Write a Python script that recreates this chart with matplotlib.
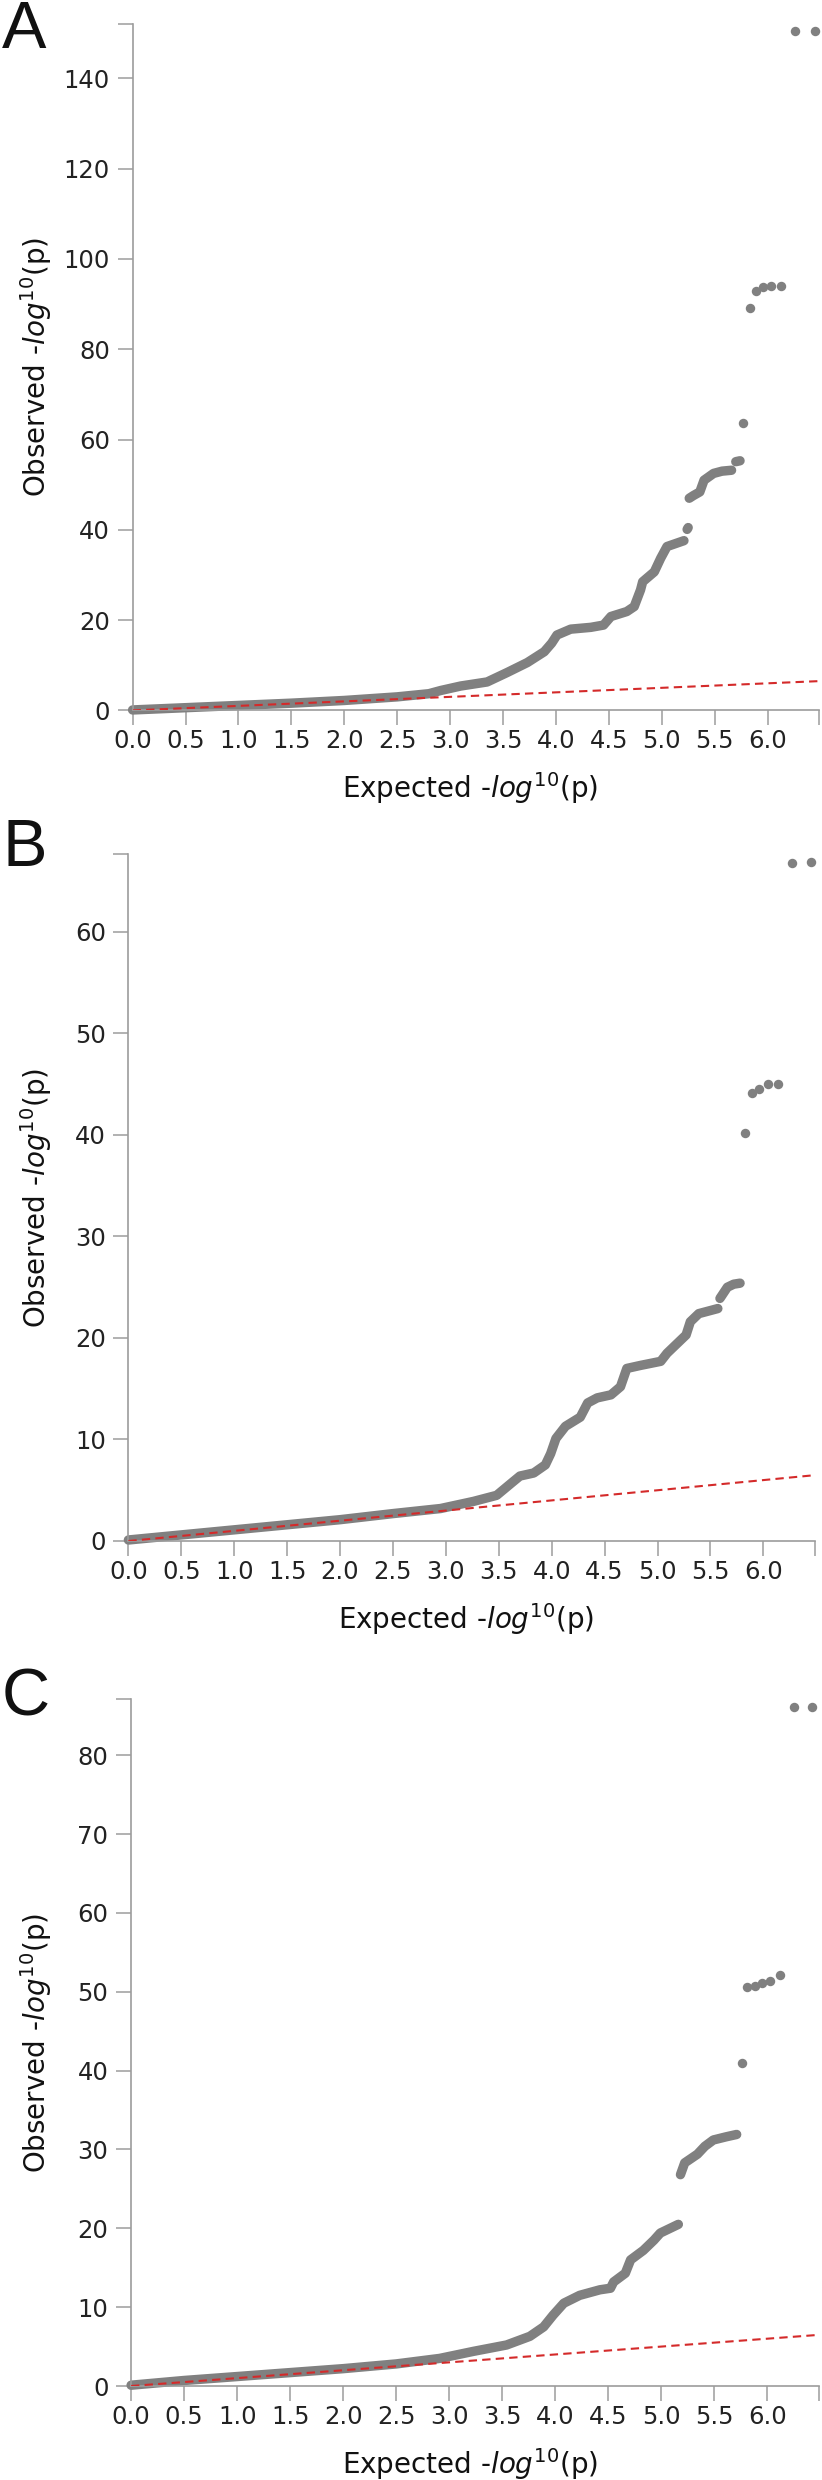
import numpy as np
import matplotlib
matplotlib.use("Agg")
import matplotlib.pyplot as plt

nan = np.nan

# values (x = expected -log10 p, y = observed -log10 p)
# dense part of each curve, nan breaks the runs
a_line_x = [0.0, 0.5, 1.0, 1.5, 2.0, 2.5, 2.8, 2.91, 3.1, 3.35, 3.54, 3.73, 3.89, 3.96,
            4.01, 4.14, 4.33, 4.45, 4.52, 4.67, 4.74, 4.80, 4.82, 4.93, 4.99, 5.05, 5.21,
            nan, 5.24, 5.25,
            nan, 5.26, 5.30, 5.36, 5.40, 5.49, 5.57, 5.66,
            nan, 5.70, 5.74]
a_line_y = [0.1, 0.6, 1.1, 1.6, 2.2, 3.0, 3.7, 4.4, 5.4, 6.3, 8.4, 10.6, 13.0, 14.9,
            16.7, 18.0, 18.4, 18.9, 20.8, 21.9, 23.0, 26.7, 28.5, 30.7, 33.7, 36.3, 37.6,
            nan, 40.1, 40.5,
            nan, 47.0, 47.6, 48.4, 51.0, 52.5, 53.0, 53.2,
            nan, 55.1, 55.3]
a_dot_x = [5.77, 5.83, 5.89, 5.96, 6.03, 6.13, 6.26, 6.45]
a_dot_y = [63.6, 89.1, 92.9, 93.8, 94.0, 94.1, 150.5, 150.5]

b_line_x = [0.0, 0.5, 1.0, 1.5, 2.0, 2.5, 2.95, 3.26, 3.48, 3.63, 3.70, 3.83, 3.94, 3.99,
            4.04, 4.13, 4.27, 4.34, 4.43, 4.56, 4.65, 4.71, 4.84, 5.03, 5.09, 5.17, 5.27,
            5.31, 5.39, 5.57,
            nan, 5.59, 5.66, 5.72, 5.78]
b_line_y = [0.1, 0.6, 1.1, 1.6, 2.1, 2.7, 3.2, 3.9, 4.5, 5.8, 6.4, 6.7, 7.5, 8.6,
            10.1, 11.3, 12.2, 13.6, 14.1, 14.4, 15.2, 17.0, 17.3, 17.7, 18.5, 19.3, 20.3,
            21.6, 22.4, 22.9,
            nan, 23.9, 25.0, 25.3, 25.4]
b_dot_x = [5.83, 5.89, 5.96, 6.04, 6.14, 6.27, 6.45]
b_dot_y = [40.2, 44.1, 44.5, 45.0, 45.0, 66.8, 66.9]

c_line_x = [0.0, 0.5, 1.0, 1.5, 2.0, 2.5, 2.91, 3.23, 3.54, 3.76, 3.89, 3.98, 4.08, 4.23,
            4.42, 4.52, 4.55, 4.66, 4.71, 4.83, 4.93, 4.99, 5.16,
            nan, 5.18, 5.22, 5.34, 5.41, 5.49, 5.61, 5.71]
c_line_y = [0.1, 0.7, 1.2, 1.7, 2.2, 2.8, 3.5, 4.4, 5.2, 6.3, 7.5, 9.0, 10.5, 11.5,
            12.2, 12.4, 13.2, 14.3, 16.0, 17.2, 18.5, 19.4, 20.5,
            nan, 26.8, 28.3, 29.4, 30.4, 31.2, 31.6, 31.9]
c_dot_x = [5.76, 5.81, 5.88, 5.95, 6.02, 6.12, 6.25, 6.42]
c_dot_y = [41.0, 50.6, 50.7, 51.1, 51.3, 52.1, 86.1, 86.1]

panels = ["A", "B", "C"]
y_ticks = [np.arange(0, 141, 20), np.arange(0, 61, 10), np.arange(0, 81, 10)]
y_tops = [152.1, 67.7, 87.1]
x_ticks = np.arange(0, 6.01, 0.5)
x_top = 6.49

# figure is 822 x 2480 px; axes boxes in pixels (left, right, top, bottom)
boxes = [(132.6, 819.4, 23.8, 710.4), (128.4, 815.2, 853.8, 1541.0), (131.1, 819.4, 1699.2, 2386.0)]
letter_top = [0, 818, 1668]

W, H = 822, 2480
fig = plt.figure(figsize=(W / 100, H / 100), dpi=100)

gray = "#808080"
axis_col = "#9c9c9c"
lines = [(a_line_x, a_line_y), (b_line_x, b_line_y), (c_line_x, c_line_y)]
dots = [(a_dot_x, a_dot_y), (b_dot_x, b_dot_y), (c_dot_x, c_dot_y)]

for i in range(3):
    l, r, t, b = boxes[i]
    ax = fig.add_axes([l / W, 1 - b / H, (r - l) / W, (b - t) / H])
    ax.set_xlim(0, x_top)
    ax.set_ylim(0, y_tops[i])

    lx, ly = lines[i]
    ax.plot(lx, ly, color=gray, lw=6.8, solid_capstyle="round",
            solid_joinstyle="round", clip_on=False, zorder=2)
    dx, dy = dots[i]
    ax.plot(dx, dy, "o", color=gray, ms=6.8, mew=0, clip_on=False, zorder=2)
    ax.plot([0, x_top], [0, x_top], color="#d42a2a", lw=1.5,
            dashes=(4, 2.5), zorder=3)

    for s in ["top", "right"]:
        ax.spines[s].set_visible(False)
    for s in ["left", "bottom"]:
        ax.spines[s].set_color(axis_col)
        ax.spines[s].set_linewidth(1.2)

    ax.set_xticks(x_ticks)
    ax.set_xticklabels(["{:.1f}".format(v) for v in x_ticks])
    ax.set_yticks(y_ticks[i])
    ax.set_xticks([x_top], minor=True)
    ax.set_yticks([y_tops[i]], minor=True)
    ax.tick_params(axis="both", which="both", length=11, width=1.1, color=axis_col,
                   labelsize=17.5, labelcolor="#222222")
    ax.tick_params(axis="x", pad=2.7)
    ax.tick_params(axis="y", pad=5.3)

    ax.set_xlabel(r"Expected -$\mathit{log}^{10}$(p)", fontsize=20, color="#111111", va="top")
    ax.set_ylabel(r"Observed -$\mathit{log}^{10}$(p)", fontsize=20, color="#111111")
    ax.xaxis.set_label_coords(0.492, -60 / (b - t))
    ax.yaxis.set_label_coords((54 - l) / (r - l), 0.5)

    fig.text(2 / W, 1 - letter_top[i] / H, panels[i], fontsize=48,
             family="Liberation Sans", ha="left", va="top", color="#111111")

plt.savefig("out.png", dpi=100)
plt.close()
